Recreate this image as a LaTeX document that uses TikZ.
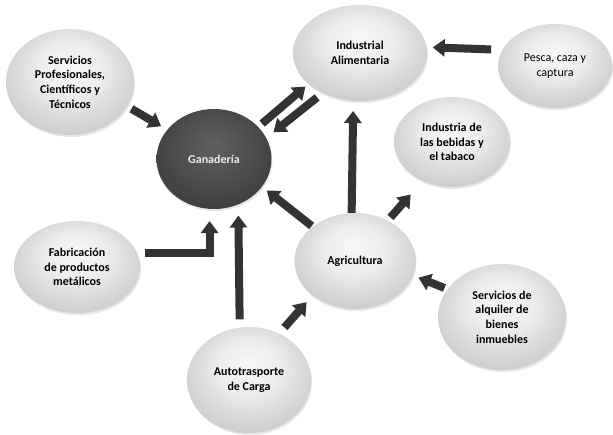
\documentclass[tikz,border=0pt]{standalone}
\usepackage{fontspec}
\setmainfont{Carlito}
\usepackage{tikz}
\usetikzlibrary{shapes.geometric,arrows.meta,shadows}

\pgfdeclareradialshading{bubble}{\pgfpoint{0bp}{8bp}}{color(0bp)=(gray!6); color(12bp)=(gray!14); color(30bp)=(gray!42); color(50bp)=(gray!42)}
\pgfdeclareradialshading{darkbubble}{\pgfpoint{0bp}{8bp}}{color(0bp)=(black!62); color(30bp)=(black!76); color(50bp)=(black!76)}

\begin{document}
\begin{tikzpicture}[x=1pt,y=-1pt,
    sector/.style={ellipse, shading=bubble, inner sep=0pt, align=center,
      font=\bfseries\fontsize{12}{14.7}\selectfont,
      drop shadow={opacity=0.2,shadow xshift=1pt,shadow yshift=-2pt}},
    flow/.style={draw=black!80, line width=8pt, -{Triangle[width=17pt,length=12pt]}}]
    \useasboundingbox (0,0) rectangle (613,434);

    \node[sector, minimum width=128pt, minimum height=106pt] (serv) at (70,82)
       {Servicios\\Profesionales,\\Científicos y\\Técnicos};
    \node[sector, shading=darkbubble, text=white!93!black, minimum width=115pt, minimum height=100pt] (gan) at (214,159) {Ganadería};
    \node[sector, minimum width=134pt, minimum height=96pt] (ind) at (360,53) {Industrial\\Alimentaria};
    \node[sector, font=\fontsize{12}{14.7}\selectfont, minimum width=114pt, minimum height=84pt] (pesca) at (555,66) {Pesca, caza y\\captura};
    \node[sector, minimum width=116pt, minimum height=90pt] (beb) at (452,142) {Industria de\\las bebidas y\\el tabaco};
    \node[sector, minimum width=126pt, minimum height=92pt] (fab) at (77,267) {Fabricación\\de productos\\metálicos};
    \node[sector, minimum width=121pt, minimum height=96pt] (agri) at (355,261) {Agricultura};
    \node[sector, minimum width=124pt, minimum height=106pt] (auto) at (249,380) {Autotrasporte\\de Carga};
    \node[sector, minimum width=128pt, minimum height=106pt] (alq) at (502,317) {Servicios de\\alquiler de\\bienes\\inmuebles};

    \draw[flow, shorten <=5pt, shorten >=7pt] (serv.-23) -- (gan.148);
    \draw[flow, shorten <=5pt, shorten >=4pt] (gan.36) -- (ind.211);
    \draw[flow, shorten <=7pt, shorten >=9pt] (ind.227) -- (gan.22);
    \draw[flow, shorten <=11pt, shorten >=6pt] (pesca.163) -- (ind.5);
    \draw[flow, shorten >=10pt] (agri.94) -- (ind.262);
    \draw[flow, shorten <=4pt, shorten >=18pt] (agri.51) -- (beb.233);
    \draw[flow, shorten <=1pt, shorten >=6pt] (agri.141) -- (gan.-30);
    \draw[flow] ([xshift=8pt]fab.13) -| ([yshift=-12pt]gan.265);
    \draw[flow, shorten <=8pt, shorten >=11pt] (auto.100) -- (gan.-62);
    \draw[flow, shorten <=8pt, shorten >=9pt] (auto.57) -- (agri.219);
    \draw[flow, shorten <=3pt, shorten >=6pt] (alq.153) -- (agri.-14);
\end{tikzpicture}
\end{document}
